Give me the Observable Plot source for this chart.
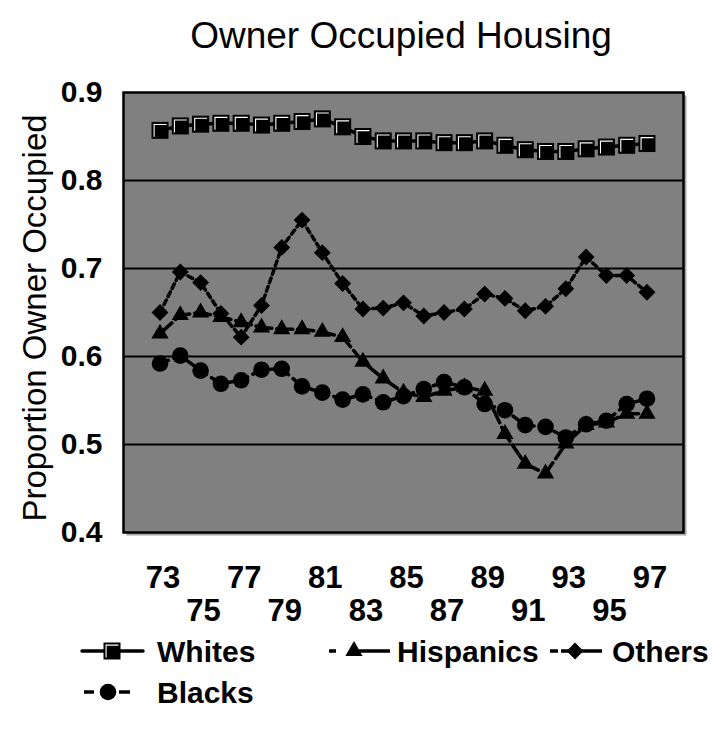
<!DOCTYPE html>
<html>
<head>
<meta charset="utf-8">
<script src="https://cdn.jsdelivr.net/npm/d3@7"></script>
<script src="https://cdn.jsdelivr.net/npm/@observablehq/plot@0.6"></script>
<style>
  html, body { margin: 0; padding: 0; background: white; }
  #wrap { position: relative; width: 722px; height: 734px; overflow: hidden; font-family: "Liberation Sans", Arial, sans-serif; }
  #chart { position: absolute; left: 0; top: 0; }
  #overlay { position: absolute; left: 0; top: 0; pointer-events: none; }
</style>
</head>
<body>
<div id="wrap">
  <div id="chart"></div>
  <svg id="overlay" width="722" height="734"></svg>
</div>
<script>
// ---- data ----
const years = [73,74,75,76,77,78,79,80,81,82,83,84,85,86,87,88,89,90,91,92,93,94,95,96,97];
const whites    = [0.857,0.862,0.864,0.865,0.865,0.863,0.865,0.867,0.870,0.861,0.850,0.845,0.845,0.845,0.843,0.843,0.845,0.840,0.835,0.833,0.833,0.836,0.838,0.840,0.842];
const hispanics = [0.626,0.647,0.650,0.645,0.639,0.633,0.631,0.631,0.628,0.622,0.594,0.575,0.559,0.554,0.561,0.565,0.561,0.512,0.478,0.467,0.501,0.522,0.525,0.535,0.535];
const others    = [0.650,0.696,0.684,0.649,0.622,0.658,0.724,0.755,0.718,0.683,0.654,0.655,0.661,0.646,0.650,0.654,0.671,0.666,0.652,0.657,0.677,0.713,0.692,0.692,0.673];
const blacks    = [0.592,0.601,0.584,0.569,0.573,0.585,0.586,0.566,0.559,0.551,0.557,0.548,0.555,0.563,0.571,0.565,0.546,0.539,0.522,0.520,0.508,0.523,0.527,0.546,0.552];
const seriesNames = ["Whites", "Hispanics", "Others", "Blacks"];
const yTicks = [0.4, 0.5, 0.6, 0.7, 0.8, 0.9];
const gridValues = [0.5, 0.6, 0.7, 0.8];
const xTicksRow1 = [73, 77, 81, 85, 89, 93, 97];
const xTicksRow2 = [75, 79, 83, 87, 91, 95];
const titleText = "Owner Occupied Housing";
const yTitle = "Proportion Owner Occupied";

// ---- build tables ----
const seriesValues = [whites, hispanics, others, blacks];
const tables = seriesNames.map((name, s) => years.map((yr, i) => ({year: yr, value: seriesValues[s][i], series: name})));

const styles = {
  Whites:    {symbol: "square",   r: 9.6, dash: null},
  Hispanics: {symbol: "triangle", r: 6.4, dash: "16,5"},
  Others:    {symbol: "diamond2", r: 7.6, dash: "5,4"},
  Blacks:    {symbol: "circle",   r: 8.3, dash: "9,6"}
};

// bevel highlight drawn inside the square markers
const bevel = {
  draw(ctx, size) {
    const h = Math.sqrt(size) / 2, i = 2.6;
    ctx.moveTo(-h + i, h - 2);
    ctx.lineTo(-h + i, -h + i);
    ctx.lineTo(h - 2, -h + i);
  }
};

const marks = [
  Plot.frame({fill: "#a8a8a8", dx: 3, dy: 3}),
  Plot.frame({fill: "#808080"}),
  Plot.ruleY(gridValues, {stroke: "black", strokeWidth: 2})
];
seriesNames.forEach((name, s) => {
  const st = styles[name];
  marks.push(Plot.line(tables[s], {x: "year", y: "value", stroke: "black", strokeWidth: 3.5, strokeDasharray: st.dash || undefined}));
  marks.push(Plot.dot(tables[s], {x: "year", y: "value", symbol: st.symbol, r: st.r, fill: "black", stroke: "none"}));
  if (name === "Whites") {
    marks.push(Plot.dot(tables[s], {x: "year", y: "value", symbol: bevel, r: st.r, fill: "none", stroke: "white", strokeWidth: 1.1}));
  }
});
marks.push(Plot.frame({stroke: "black", strokeWidth: 2.5}));
marks.push(Plot.axisY({ticks: yTicks, tickSize: 0, tickPadding: 21, tickFormat: d => d.toFixed(1), fontSize: 30, fontWeight: "bold", label: null}));
marks.push(Plot.axisX({ticks: xTicksRow1, tickSize: 0, tickPadding: 33, fontSize: 31, fontWeight: "bold", dx: 3, label: null}));
marks.push(Plot.axisX({ticks: xTicksRow2, tickSize: 0, tickPadding: 66, fontSize: 31, fontWeight: "bold", dx: 3, label: null}));

const chart = Plot.plot({
  width: 722,
  height: 640,
  marginLeft: 123,
  marginRight: 39,
  marginTop: 92,
  marginBottom: 108,
  style: {fontFamily: "Liberation Sans, Arial, sans-serif", background: "white", color: "black", overflow: "visible"},
  x: {domain: [71.2, 98.8]},
  y: {domain: [0.4, 0.9]},
  marks
});
document.getElementById("chart").appendChild(chart);

// ---- title, axis title and legend overlay ----
const ov = d3.select("#overlay");
const FONT = "Liberation Sans, Arial, sans-serif";
ov.append("text").attr("x", 401).attr("y", 48).attr("text-anchor", "middle")
  .attr("font-size", 37).attr("font-family", FONT).text(titleText);
ov.append("text").attr("transform", "translate(46,318) rotate(-90)").attr("text-anchor", "middle")
  .attr("font-size", 33).attr("font-family", FONT).text(yTitle);

const legendItems = [
  {name: seriesNames[0], cx: 112, cy: 651, x0: 82, x1: 143, tx: 157, dash: null},
  {name: seriesNames[1], cx: 354, cy: 651, x0: 329, x1: 390, tx: 397, dash: "7,16,40"},
  {name: seriesNames[2], cx: 575, cy: 651, x0: 550, x1: 602, tx: 612, dash: "8,3,8,12,21"},
  {name: seriesNames[3], cx: 108, cy: 692, x0: 84, x1: 130, tx: 157, dash: "10,25,12"}
];
legendItems.forEach(it => {
  const st = styles[it.name];
  const g = ov.append("g");
  g.append("line").attr("x1", it.x0).attr("x2", it.x1).attr("y1", it.cy).attr("y2", it.cy)
    .attr("stroke", "black").attr("stroke-width", 3.5).attr("stroke-linecap", it.dash ? "butt" : "round")
    .attr("stroke-dasharray", it.dash);
  const sym = {square: d3.symbolSquare, triangle: d3.symbolTriangle, diamond2: d3.symbolDiamond2, circle: d3.symbolCircle}[st.symbol];
  g.append("path").attr("transform", `translate(${it.cx},${it.cy})`)
    .attr("d", d3.symbol(sym, st.r * st.r * Math.PI)()).attr("fill", "black");
  if (it.name === "Whites") {
    const h = Math.sqrt(st.r * st.r * Math.PI) / 2, i = 2.6;
    g.append("path").attr("transform", `translate(${it.cx},${it.cy})`)
      .attr("d", `M${-h + i},${h - 2}L${-h + i},${-h + i}L${h - 2},${-h + i}`)
      .attr("fill", "none").attr("stroke", "white").attr("stroke-width", 1.1);
  }
  g.append("text").attr("x", it.tx).attr("y", it.cy + 11).attr("font-size", 30).attr("font-weight", "bold")
    .attr("font-family", FONT).text(it.name);
});
</script>
</body>
</html>
